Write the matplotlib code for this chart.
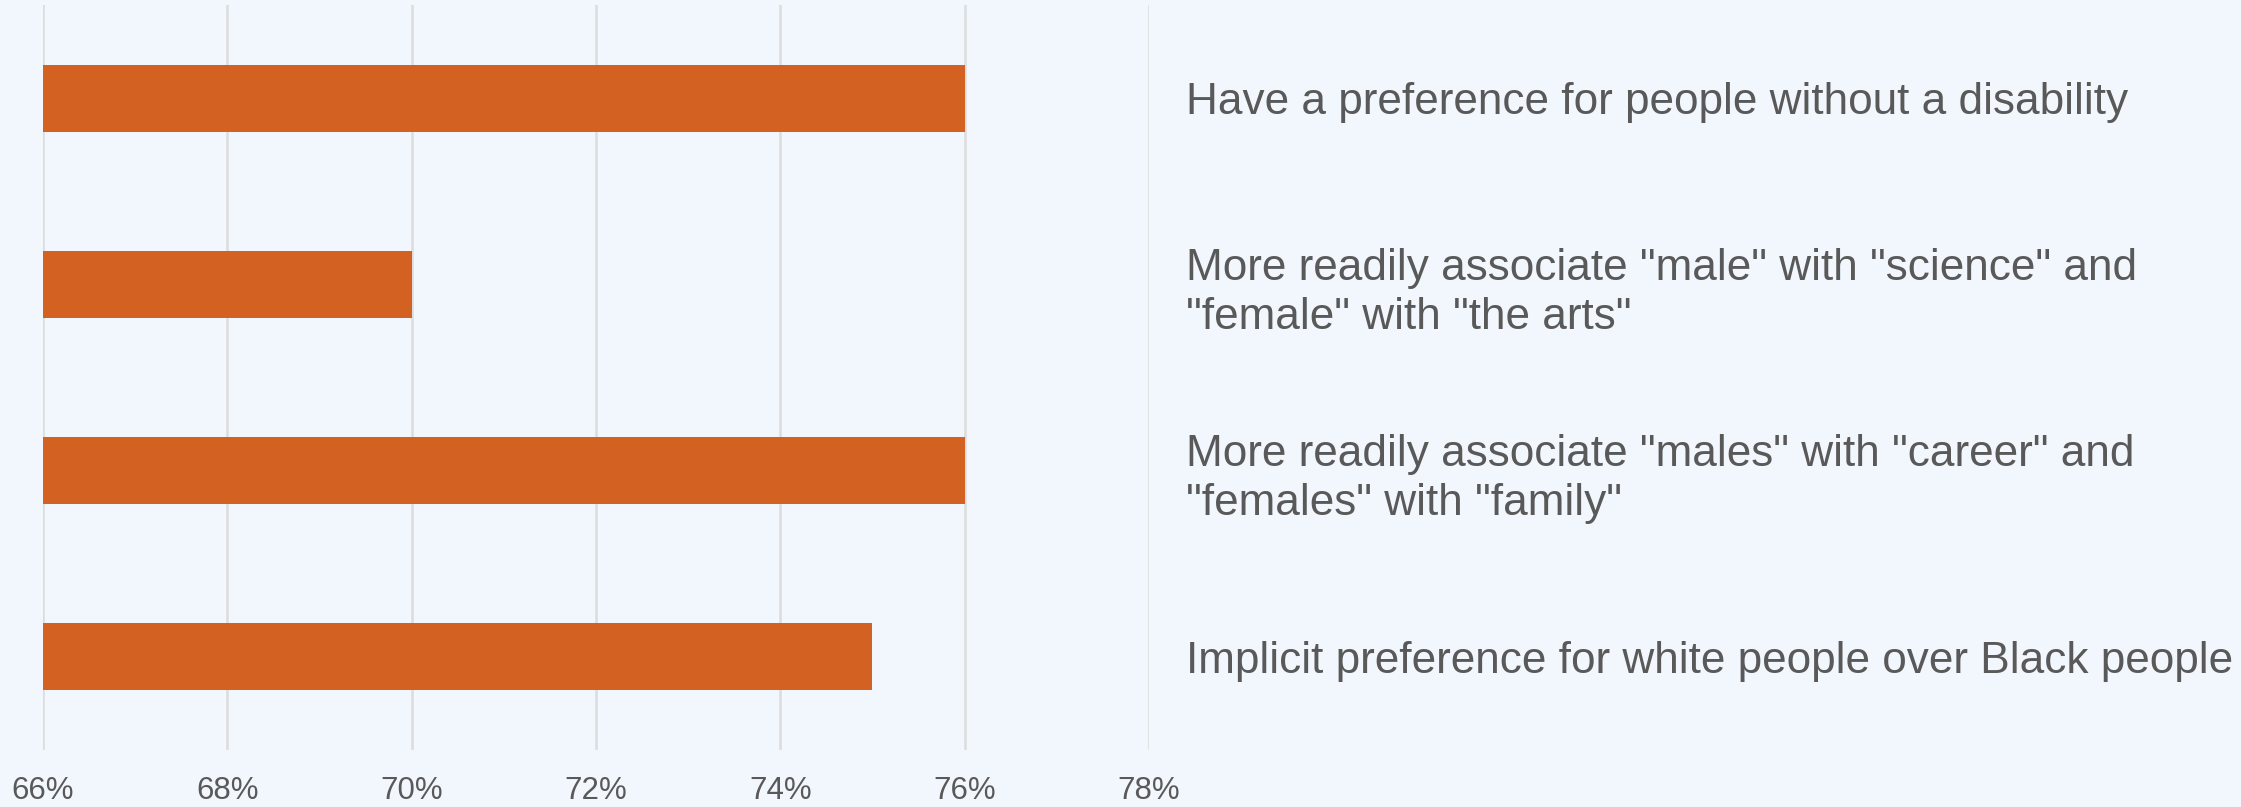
import matplotlib.pyplot as plt

# data
labels = [
    "Have a preference for people without a disability",
    "More readily associate \"male\" with \"science\" and\n\"female\" with \"the arts\"",
    "More readily associate \"males\" with \"career\" and\n\"females\" with \"family\"",
    "Implicit preference for white people over Black people",
]
values = [76, 70, 76, 75]
xticks = [66, 68, 70, 72, 74, 76, 78]

bg = "#F2F7FE"
bar_color = "#D36122"
text_color = "#595959"
grid_color = "#DCDCDC"

plt.rcParams["font.family"] = ["Liberation Sans", "DejaVu Sans"]

W, H = 2241, 807
fig = plt.figure(figsize=(W / 100, H / 100), dpi=100, facecolor=bg)
# axes placed in pixel terms
left, right, top, bottom = 43, 1149, 5, 750
ax = fig.add_axes([left / W, 1 - bottom / H, (right - left) / W, (bottom - top) / H])
ax.set_facecolor(bg)

ypos = list(range(len(values)))
ax.barh(ypos, [v - 66 for v in values], left=66, height=0.36, color=bar_color, zorder=3)

ax.set_xlim(66, 78)
ax.set_ylim(len(values) - 0.5, -0.5)
ax.set_xticks(xticks)
ax.set_xticklabels([f"{t}%" for t in xticks], fontsize=22.5, color=text_color)
ax.tick_params(axis="x", length=0, pad=19)

ax.yaxis.tick_right()
ax.set_yticks(ypos)
ax.set_yticklabels(labels, fontsize=31.75, color=text_color, linespacing=1.25)
ax.tick_params(axis="y", length=0, pad=27)
for t in ax.get_yticklabels():
    t.set_horizontalalignment("left")

ax.grid(axis="x", color=grid_color, linewidth=1.8, zorder=0)
for s in ax.spines.values():
    s.set_visible(False)

fig.savefig("out.png", dpi=100, facecolor=bg)
